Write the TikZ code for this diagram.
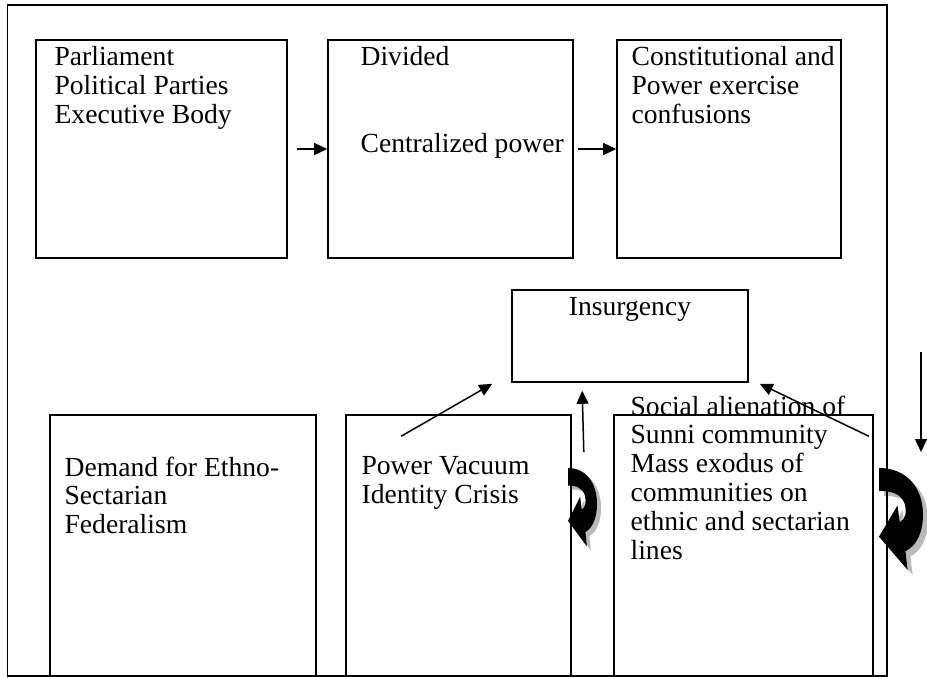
\documentclass[tikz,border=0pt]{standalone}
\usepackage{fontspec}
\setmainfont{Liberation Serif}
\usetikzlibrary{arrows.meta, calc, positioning}
\tikzset{
    caixa/.style={draw=black, line width=0.8pt, inner sep=0pt},
    texto/.style={font=\fontsize{13.8}{14.4}\selectfont, align=left, inner sep=0pt, anchor=north west},
    seta/.style={-{Triangle[length=6.5pt,width=6pt]}, line width=0.75pt},
    pics/volta/.style={code={
        \fill[#1] (0,0) .. controls (0.65,0) and (1,0.2) .. (1,0.45)
            .. controls (1,0.62) and (0.85,0.75) .. (0.6,0.8)
            -- (0.65,0.98) -- (0,0.66) -- (0.42,0.36) -- (0.47,0.52)
            .. controls (0.6,0.5) and (0.64,0.42) .. (0.58,0.34)
            .. controls (0.5,0.25) and (0.3,0.22) .. (0,0.22) -- cycle;
    }}
}

\begin{document}
\begin{tikzpicture}[x=0.5pt, y=-0.5pt]
    \useasboundingbox (0,0) rectangle (927,677);

    \pic[xscale=29, yscale=80] at (572,472) {volta=gray!55};
    \pic[xscale=29, yscale=80] at (568,468) {volta=black};
    \pic[xscale=44, yscale=104] at (884,473) {volta=gray!55};
    \pic[xscale=44, yscale=104] at (879,468) {volta=black};

    \draw[line width=0.8pt] (7.5,5) rectangle (887,676);

    \node[caixa, minimum width=125.5pt, minimum height=109pt] (b1) at (161.5,149) {};
    \node[caixa, minimum width=122.5pt, minimum height=109pt] (b2) at (450.5,149) {};
    \node[caixa, minimum width=112pt, minimum height=109pt] (b3) at (729,149) {};
    \node[caixa, minimum width=118pt, minimum height=46pt] (ins) at (630,336) {};
    \node[caixa, minimum width=133pt, minimum height=130.5pt] (b4) at (183,545.5) {};
    \node[caixa, minimum width=112.5pt, minimum height=130.5pt] (b5) at (458.5,545.5) {};
    \node[caixa, minimum width=129.5pt, minimum height=130.5pt] (b6) at (743.5,545.5) {};

    \node[texto] (t1) at ($(b1.north west)+(19,7)$) {Parliament\\Political Parties\\Executive Body};
    \node[texto] (t2) at ($(b2.north west)+(33,7)$) {Divided\\[28.8pt]Centralized power};
    \node[texto] (t3) at ($(b3.north west)+(15,7)$) {Constitutional and\\Power exercise\\confusions};
    \node[texto, anchor=north] (t4) at ($(ins.north)+(0,8)$) {Insurgency};
    \node[texto] (t5) at ($(b4.north west)+(15,42)$) {Demand for Ethno-\\Sectarian\\Federalism};
    \node[texto] (t6) at ($(b5.north west)+(16,42)$) {Power Vacuum\\Identity Crisis};
    \node[texto] (t7) at ($(b6.north west)+(17,-19)$) {Social alienation of\\Sunni community\\Mass exodus of\\communities on\\ethnic and sectarian\\lines};

    \draw[seta] ([xshift=4.5pt]b1.east) -- (b2.west);
    \draw[seta] ([xshift=2pt]b2.east) -- (b3.west);
    \draw[seta] ($(b5.north west)+(56,22)$) -- ($(ins.south west)+(-19,1)$);
    \draw[seta] ($(b5.north east)+(12,38)$) -- ($(ins.south west)+(71,8)$);
    \draw[seta] ($(b6.north east)+(-5,22)$) -- ($(ins.south east)+(11,1)$);
    \coordinate (fb1) at (921,352);
    \coordinate (fb2) at (921,452);
    \draw[seta] (fb1) -- (fb2);
\end{tikzpicture}
\end{document}
